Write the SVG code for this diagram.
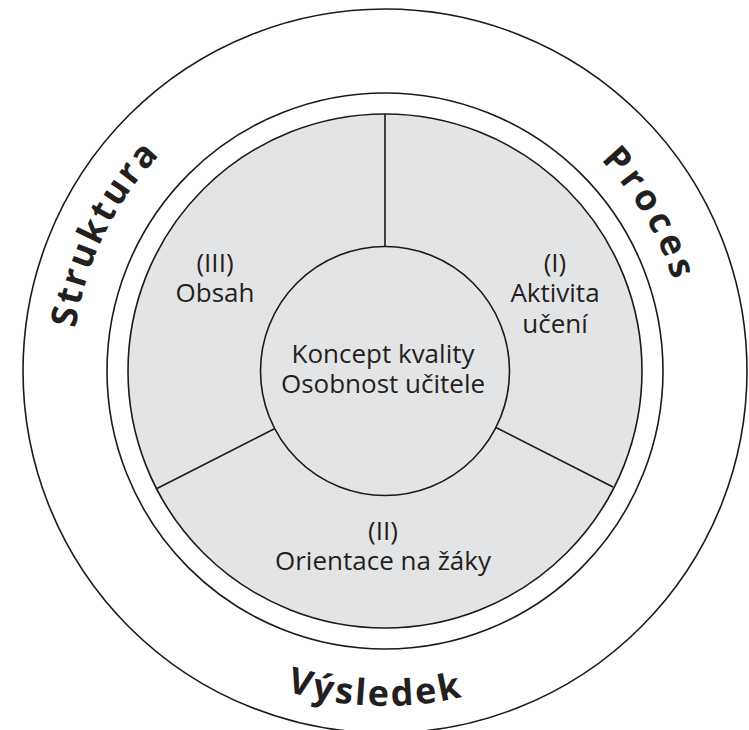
<svg xmlns="http://www.w3.org/2000/svg" width="749" height="730" viewBox="0 0 749 730">
  <style>
    .ring { fill: none; stroke: #1a1a1a; stroke-width: 1.6; }
    .disc { fill: #e3e4e6; stroke: #1a1a1a; stroke-width: 1.6; }
    .div { stroke: #1a1a1a; stroke-width: 1.6; fill: none; }
    .lbl { font-family: "Open Sans", "Noto Sans", sans-serif; font-size: 26px; fill: #231f20; text-anchor: middle; }
    .arc { font-family: "Open Sans", "Noto Sans", sans-serif; font-weight: bold; font-size: 36px; fill: #231f20; letter-spacing: 2.5px; }
    .wide { letter-spacing: 4.5px; }
  </style>
  <defs>
    <path id="pStruktura" d="M 126.3 545.5 A 312 312 0 0 1 363.2 59.7"/>
    <path id="pProces" d="M 385 69 A 302 302 0 0 1 655 506"/>
    <path id="pVysledek" d="M 90.0 529.8 A 335 335 0 0 0 670.0 547.0"/>
  </defs>
  <rect width="749" height="730" fill="#ffffff"/>

  <g id="outer-ring">
    <circle class="ring" cx="385" cy="371" r="362"/>
    <circle class="ring" cx="385" cy="371" r="278"/>
  </g>

  <g id="label-struktura">
    <text class="arc"><textPath href="#pStruktura" startOffset="50%" text-anchor="middle">Struktura</textPath></text>
  </g>
  <g id="label-proces">
    <text class="arc wide"><textPath href="#pProces" startOffset="51%" text-anchor="middle">Proces</textPath></text>
  </g>
  <g id="label-vysledek">
    <text class="arc"><textPath href="#pVysledek" startOffset="50%" text-anchor="middle">Výsledek</textPath></text>
  </g>

  <g id="quality-disc">
    <circle class="disc" cx="385" cy="371" r="257"/>
  </g>

  <g id="connectors">
    <line class="div" x1="385" y1="114" x2="385" y2="247"/>
    <line class="div" x1="156" y1="489" x2="274" y2="429"/>
    <line class="div" x1="613" y1="487" x2="495" y2="427"/>
  </g>

  <g id="sector-I">
    <text class="lbl" x="555" y="272">(I)</text>
    <text class="lbl" x="555" y="302">Aktivita</text>
    <text class="lbl" x="555" y="333">učení</text>
  </g>
  <g id="sector-II">
    <text class="lbl" x="383" y="540">(II)</text>
    <text class="lbl" x="383" y="570">Orientace na žáky</text>
  </g>
  <g id="sector-III">
    <text class="lbl" x="215" y="272">(III)</text>
    <text class="lbl" x="215" y="302">Obsah</text>
  </g>

  <g id="center">
    <circle class="disc" cx="385" cy="371" r="124.5"/>
    <text class="lbl" x="383" y="363">Koncept kvality</text>
    <text class="lbl" x="383" y="393">Osobnost učitele</text>
  </g>
</svg>
